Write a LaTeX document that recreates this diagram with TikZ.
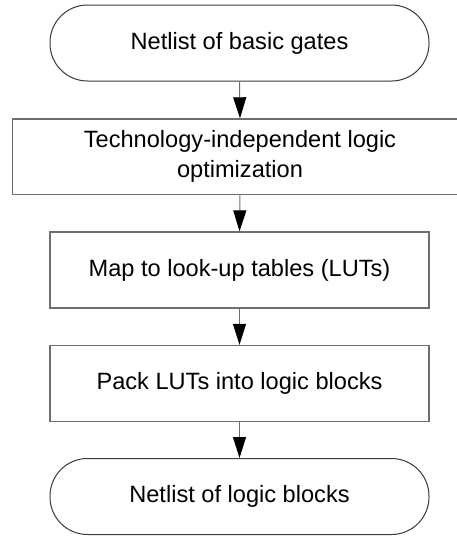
\documentclass[tikz,border=0pt]{standalone}
\usepackage{fontspec}
\setmainfont{Liberation Sans}
\usetikzlibrary{arrows.meta}

\definecolor{boxline}{HTML}{6E6E6E}
\definecolor{termline}{HTML}{3A3A3A}

\tikzset{
  flowtext/.style={font=\fontsize{23.6}{30}\selectfont, align=center, inner sep=0pt},
  terminal/.style={flowtext, draw=termline, line width=1pt, rounded corners=37.5pt,
    minimum width=379pt, minimum height=76pt},
  process/.style={flowtext, draw=boxline, line width=1.3pt,
    minimum width=379pt, minimum height=76pt},
  flow/.style={draw=boxline, line width=1pt,
    -{Triangle[length=21pt, width=13pt, fill=black, color=black]}}
}

\begin{document}
\begin{tikzpicture}[x=1pt, y=-1pt]
  \useasboundingbox (0,0) rectangle (457,536);
  \clip (0,0) rectangle (457,536);

  \node[terminal] (start) at (239.5,43) {Netlist of basic gates};
  \node[process, minimum width=454.6pt, minimum height=75.7pt] (opt) at (240,156.8)
    {Technology-independent logic\\optimization};
  \node[process] (map) at (239.5,270) {Map to look-up tables (LUTs)};
  \node[process] (pack) at (239.5,383.5) {Pack LUTs into logic blocks};
  \node[terminal] (finish) at (239.5,496.5) {Netlist of logic blocks};

  \draw[flow] (start.south) -- (opt.north);
  \draw[flow] (opt.south) -- (map.north);
  \draw[flow] (map.south) -- (pack.north);
  \draw[flow] (pack.south) -- (finish.north);
\end{tikzpicture}
\end{document}
